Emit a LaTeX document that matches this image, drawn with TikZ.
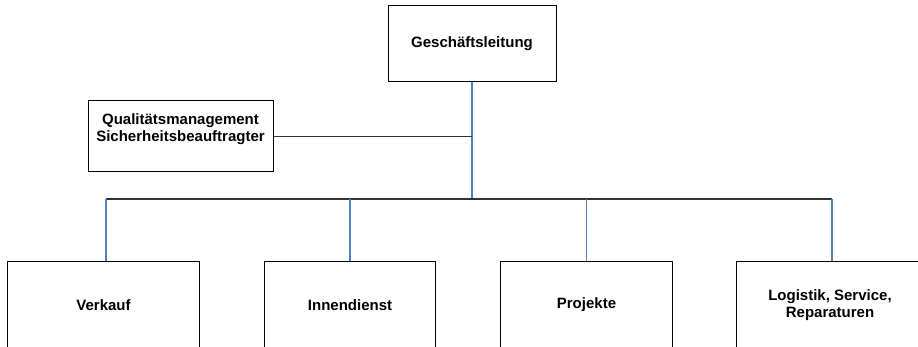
\documentclass[tikz,border=0pt]{standalone}
\usepackage{fontspec}
\setmainfont{Liberation Sans}
\usepackage{xcolor}
\usetikzlibrary{positioning,calc}
\definecolor{linkblue}{RGB}{79,129,189}

\begin{document}
\begin{tikzpicture}[x=1pt,y=-1pt,
    box/.style={draw,line width=1pt,inner sep=0pt,align=center,font=\bfseries\fontsize{15}{17}\selectfont},
    link/.style={draw=linkblue,line width=1.2pt},
    bar/.style={draw=black!80,line width=1.2pt}]
    \useasboundingbox (0,0) rectangle (918,347);
    \clip (0,0) rectangle (918,347);
    \node[box,minimum width=168pt,minimum height=76pt] (gl) at (472,44) {Geschäftsleitung};
    \node[box,minimum width=185pt,minimum height=71pt] (qm) at (180.5,136.5) {Qualitätsmanagement\\Sicherheitsbeauftragter\\~};
    \node[box,minimum width=191.5pt,minimum height=86pt] (verkauf) at (103.5,305) {Verkauf};
    \node[box,minimum width=171.5pt,minimum height=86pt] (innen) at (350,305) {Innendienst};
    \node[box,minimum width=171.5pt,minimum height=86pt] (projekte) at (586.5,305) {Projekte};
    \node[box,minimum width=188pt,minimum height=86pt] (logistik) at (830,305) {Logistik, Service,\\Reparaturen};
    \coordinate (barL) at (106,199);
    \coordinate (barR) at (832,199);
    \draw[link] (gl.south) -- (gl.south |- barL);
    \draw[bar] (qm.east) -- (qm.east -| gl.south);
    \draw[bar] (barL) -- (barR);
    \draw[link] (barL) -- (barL |- verkauf.north);
    \draw[link] (innen.north |- barL) -- (innen.north);
    \draw[link] (projekte.north |- barL) -- (projekte.north);
    \draw[link] (barR) -- (barR |- logistik.north);
\end{tikzpicture}
\end{document}
